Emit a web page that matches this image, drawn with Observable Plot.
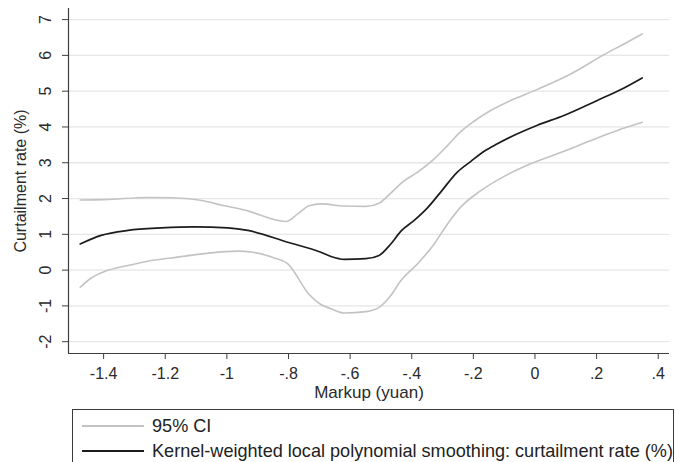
<!DOCTYPE html>
<html>
<head>
<meta charset="utf-8">
<script src="https://cdn.jsdelivr.net/npm/d3@7"></script>
<script src="https://cdn.jsdelivr.net/npm/@observablehq/plot@0.6"></script>
<style>
  html, body { margin: 0; padding: 0; background: #fff; overflow: hidden; }
  #wrap { position: relative; width: 675px; height: 462px; font-family: "Liberation Sans", Arial, Helvetica, sans-serif; }
  #wrap svg { position: absolute; left: 0; top: 0; }
  #legend { position: absolute; left: 72px; top: 409px; width: 602px; height: 80px; border: 1px solid #3a3a3a; box-sizing: border-box; background: #fff; }
  .sw { position: absolute; left: 9px; width: 62px; height: 2px; }
  .lt { position: absolute; left: 79px; font-size: 18.1px; line-height: 1; color: #222; white-space: nowrap; }
</style>
</head>
<body>
<div id="wrap"></div>
<script>
// ---- data ----
const midX = [-1.476,-1.408,-1.321,-1.213,-1.105,-0.997,-0.932,-0.803,-0.695,-0.662,-0.619,-0.549,-0.506,-0.468,-0.435,-0.392,-0.349,-0.306,-0.252,-0.208,-0.165,-0.122,-0.057,0.008,0.094,0.202,0.289,0.348];
const midY = [0.73,0.97,1.11,1.18,1.21,1.18,1.11,0.78,0.50,0.38,0.30,0.32,0.41,0.73,1.09,1.39,1.74,2.18,2.74,3.04,3.32,3.53,3.81,4.05,4.32,4.74,5.09,5.37];

const upX = [-1.476,-1.397,-1.256,-1.181,-1.073,-1.019,-0.943,-0.808,-0.770,-0.733,-0.695,-0.619,-0.549,-0.506,-0.468,-0.430,-0.381,-0.327,-0.284,-0.241,-0.198,-0.144,-0.079,0.008,0.116,0.224,0.289,0.348];
const upY = [1.96,1.97,2.03,2.02,1.93,1.82,1.68,1.36,1.57,1.80,1.85,1.79,1.78,1.87,2.15,2.46,2.74,3.11,3.48,3.87,4.16,4.46,4.74,5.05,5.48,6.02,6.32,6.60];

const loX = [-1.476,-1.44,-1.397,-1.321,-1.256,-1.181,-1.073,-0.965,-0.916,-0.846,-0.803,-0.733,-0.695,-0.662,-0.619,-0.549,-0.506,-0.468,-0.435,-0.381,-0.327,-0.284,-0.241,-0.176,-0.100,-0.014,0.094,0.181,0.267,0.348];
const loY = [-0.48,-0.22,-0.04,0.13,0.25,0.34,0.46,0.53,0.50,0.34,0.18,-0.68,-0.96,-1.08,-1.20,-1.16,-1.04,-0.71,-0.29,0.18,0.73,1.29,1.76,2.22,2.62,2.97,3.32,3.62,3.90,4.13];

const xTicks = [-1.4,-1.2,-1,-0.8,-0.6,-0.4,-0.2,0,0.2,0.4];
const xTickLabels = ["-1.4","-1.2","-1","-.8","-.6","-.4","-.2","0",".2",".4"];
const yTicks = [-2,-1,0,1,2,3,4,5,6,7];
const yTickLabels = ["-2","-1","0","1","2","3","4","5","6","7"];

const xTitle = "Markup (yuan)";
const yTitle = "Curtailment rate (%)";
const legendLabels = ["95% CI", "Kernel-weighted local polynomial smoothing: curtailment rate (%)"];

const xDomain = [-1.514, 0.4366];
const yDomain = [-2.33, 7.31];

const toRows = (xs, ys) => xs.map((x, i) => ({x, y: ys[i]}));
const mid = toRows(midX, midY);
const up = toRows(upX, upY);
const lo = toRows(loX, loY);

const ciColor = "#c3c3c3";
const midColor = "#1c1c1c";
const axisColor = "#3f3f3f";
const font = '"Liberation Sans", Arial, Helvetica, sans-serif';

const chart = Plot.plot({
  width: 675,
  height: 408,
  marginLeft: 68,
  marginRight: 6,
  marginTop: 8,
  marginBottom: 55,
  style: {fontFamily: font, color: "#2a2a2a", background: "transparent"},
  x: {domain: xDomain},
  y: {domain: yDomain},
  marks: [
    Plot.gridY(yTicks, {stroke: "#e6e6e6", strokeOpacity: 1, strokeWidth: 1.3}),
    Plot.axisY(yTicks, {tickSize: 6, stroke: axisColor, tickFormat: () => "", label: null}),
    Plot.text(yTicks, {y: d => d, text: (d, i) => yTickLabels[i], frameAnchor: "left", dx: -23, rotate: -90, textAnchor: "middle", lineAnchor: "middle", fontSize: 16, fill: "#2a2a2a"}),
    Plot.text([yTitle], {frameAnchor: "left", dx: -48, rotate: -90, textAnchor: "middle", lineAnchor: "middle", fontSize: 16, fill: "#2a2a2a", text: d => d}),
    Plot.axisX(xTicks, {tickSize: 6, tickPadding: 8, fontSize: 16, stroke: axisColor, fill: "#2a2a2a", tickFormat: (d, i) => xTickLabels[i], label: null}),
    Plot.text([xTitle], {frameAnchor: "bottom", dy: 39, lineAnchor: "middle", fontSize: 17, fill: "#2a2a2a", text: d => d}),
    Plot.ruleX([xDomain[0]], {stroke: axisColor, strokeWidth: 1.2}),
    Plot.ruleY([yDomain[0]], {stroke: axisColor, strokeWidth: 1.2}),
    Plot.line(up, {x: "x", y: "y", stroke: ciColor, strokeWidth: 1.6, curve: "monotone-x"}),
    Plot.line(lo, {x: "x", y: "y", stroke: ciColor, strokeWidth: 1.6, curve: "monotone-x"}),
    Plot.line(mid, {x: "x", y: "y", stroke: midColor, strokeWidth: 1.7, curve: "monotone-x"})
  ]
});

const wrap = document.getElementById("wrap");
wrap.appendChild(chart);

const legend = document.createElement("div");
legend.id = "legend";
const rows = [{label: legendLabels[0], color: ciColor, cy: 16}, {label: legendLabels[1], color: midColor, cy: 41}];
for (const r of rows) {
  const sw = document.createElement("div");
  sw.className = "sw";
  sw.style.top = (r.cy - 1) + "px";
  sw.style.background = r.color;
  legend.appendChild(sw);
  const t = document.createElement("div");
  t.className = "lt";
  t.style.top = (r.cy - 9) + "px";
  t.textContent = r.label;
  legend.appendChild(t);
}
wrap.appendChild(legend);
</script>
</body>
</html>
